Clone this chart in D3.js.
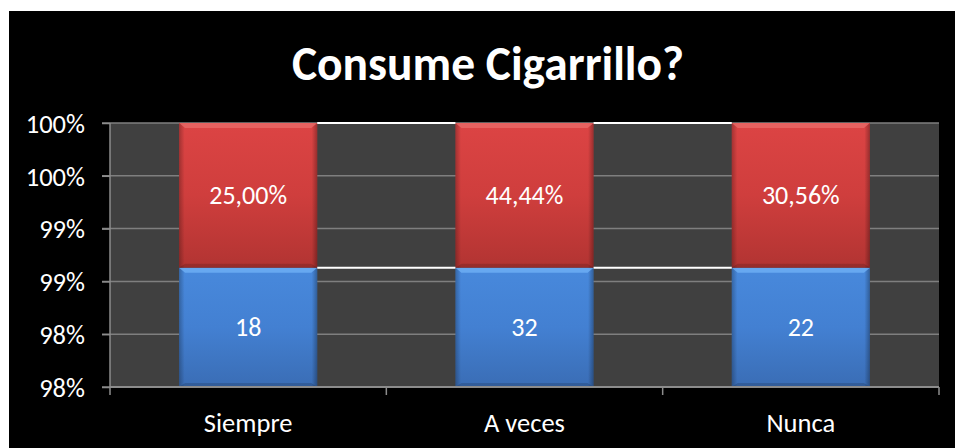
<!DOCTYPE html>
<html><head><meta charset="utf-8">
<script src="https://cdn.jsdelivr.net/npm/d3@7"></script>
<style>html,body{margin:0;padding:0;background:#fff;overflow:hidden}</style>
</head><body>
<svg id="c" width="955" height="448"></svg>
<script>
const categories = ["Siempre", "A veces", "Nunca"];
const counts = [18, 32, 22];
const shares = [0.25, 0.4444, 0.3056];
const shareLabels = ["25,00%", "44,44%", "30,56%"];
const yTicks = [0.975, 0.98, 0.985, 0.99, 0.995, 1.0];
const yTickLabels = ["98%", "98%", "99%", "99%", "100%", "100%"];
const title = "Consume Cigarrillo?";

const svg = d3.select("#c");
const font = "Carlito, Calibri, Lato, 'Open Sans', sans-serif";
svg.append("rect").attr("x", 9).attr("y", 11).attr("width", 946).attr("height", 437).attr("fill", "#000");

const m = {l: 110, r: 939, t: 123, b: 387};
const x = d3.scaleBand().domain(categories).range([m.l, m.r]).paddingInner(0.5).paddingOuter(0.25);
const xb = d3.scaleBand().domain(categories).range([m.l, m.r]);
const y = d3.scaleLinear().domain([0.975, 1.0]).range([m.b, m.t]);

const defs = svg.append("defs");
function grad(id, stops) {
  const g = defs.append("linearGradient").attr("id", id).attr("x1", 0).attr("y1", 0).attr("x2", 0).attr("y2", 1);
  stops.forEach(s => g.append("stop").attr("offset", s[0]).attr("stop-color", s[1]));
}
grad("gRed", [[0, "#dc4444"], [0.5, "#cf3e3d"], [1, "#b23432"]]);
grad("gBlue", [[0, "#4889dc"], [0.5, "#4380d2"], [1, "#3a6db5"]]);
const hg = defs.append("linearGradient").attr("id", "gSide").attr("x1", 0).attr("y1", 0).attr("x2", 1).attr("y2", 0);
[[0, "rgba(0,0,0,0.25)"], [0.04, "rgba(0,0,0,0)"], [0.96, "rgba(0,0,0,0)"], [1, "rgba(0,0,0,0.3)"]].forEach(s => hg.append("stop").attr("offset", s[0]).attr("stop-color", s[1]));

// plot background
svg.append("rect").attr("x", m.l).attr("y", m.t).attr("width", m.r - m.l).attr("height", m.b - m.t).attr("fill", "#404040");

// gridlines
svg.append("g").selectAll("line").data(yTicks).join("line")
  .attr("x1", m.l - 8).attr("x2", m.r).attr("y1", d => y(d)).attr("y2", d => y(d))
  .attr("stroke", "#7f7f7f").attr("stroke-width", 1.5);

// stacked 100% data
const rows = categories.map((c, i) => {
  const tot = counts[i] + shares[i];
  return {c, i, b: counts[i] / tot};
});

const bars = svg.append("g");
rows.forEach(r => {
  const bx = x(r.c), bw = x.bandwidth();
  const segs = [
    {y0: 0.975, y1: r.b, fill: "url(#gBlue)", hi: "#6fb0f5", lab: String(counts[r.i])},
    {y0: r.b, y1: 1.0, fill: "url(#gRed)", hi: "#e86a68", lab: shareLabels[r.i]}
  ];
  segs.forEach(s => {
    const top = y(s.y1), bot = y(s.y0);
    bars.append("rect").attr("x", bx).attr("y", top).attr("width", bw).attr("height", bot - top).attr("fill", s.fill);
    bars.append("rect").attr("x", bx).attr("y", top).attr("width", bw).attr("height", bot - top).attr("fill", "url(#gSide)");
    bars.append("path")
      .attr("d", `M${bx},${top} L${bx + bw},${top} L${bx + bw - 6},${top + 5} L${bx + 6},${top + 5} Z`)
      .attr("fill", s.hi).attr("opacity", 0.8);
    bars.append("path")
      .attr("d", `M${bx},${bot} L${bx + bw},${bot} L${bx + bw - 6},${bot - 4} L${bx + 6},${bot - 4} Z`)
      .attr("fill", "#000").attr("opacity", 0.15);
    bars.append("text").attr("x", bx + bw / 2).attr("y", (top + bot) / 2 + 9)
      .attr("text-anchor", "middle").attr("fill", "#fff").attr("font-family", font).attr("font-size", 26)
      .text(s.lab);
  });
});

// series lines
const sl = svg.append("g");
for (let i = 0; i < rows.length - 1; i++) {
  const a = rows[i], b = rows[i + 1];
  const xa = x(a.c) + x.bandwidth(), xbb = x(b.c);
  sl.append("line").attr("x1", xa).attr("x2", xbb).attr("y1", y(a.b)).attr("y2", y(b.b)).attr("stroke", "#fff").attr("stroke-width", 2);
  sl.append("line").attr("x1", xa).attr("x2", xbb).attr("y1", y(1.0)).attr("y2", y(1.0)).attr("stroke", "#fff").attr("stroke-width", 2);
}

// y axis
const ya = svg.append("g").attr("transform", `translate(${m.l},0)`)
  .call(d3.axisLeft(y).tickValues(yTicks).tickFormat((d, i) => yTickLabels[i]).tickSize(8).tickPadding(17));
ya.select(".domain").attr("stroke", "#8c8c8c").attr("stroke-width", 1.5).attr("d", `M0,${m.t}V${m.b}`);
ya.selectAll(".tick line").attr("stroke", "#8c8c8c").attr("stroke-width", 1.5);
ya.selectAll("text").attr("fill", "#fff").attr("font-family", font).attr("font-size", 26.5).attr("dy", "0.35em");

// x axis
const xg = svg.append("g").attr("transform", `translate(0,${m.b})`);
xg.append("line").attr("x1", m.l).attr("x2", m.r).attr("stroke", "#8c8c8c").attr("stroke-width", 2);
const bounds = categories.map(c => xb(c)).concat([m.r]);
xg.selectAll("line.t").data(bounds).join("line").attr("class", "t")
  .attr("x1", d => d).attr("x2", d => d).attr("y1", 0).attr("y2", 8).attr("stroke", "#8c8c8c").attr("stroke-width", 1.5);
xg.selectAll("text").data(categories).join("text")
  .attr("x", d => xb(d) + xb.bandwidth() / 2).attr("y", 45)
  .attr("text-anchor", "middle").attr("fill", "#fff").attr("font-family", font).attr("font-size", 26.5)
  .text(d => d);

// title
svg.append("text").attr("x", 488).attr("y", 80).attr("text-anchor", "middle")
  .attr("fill", "#fff").attr("font-family", font).attr("font-weight", "bold").attr("font-size", 47.5)
  .text(title);
</script>
</body></html>
